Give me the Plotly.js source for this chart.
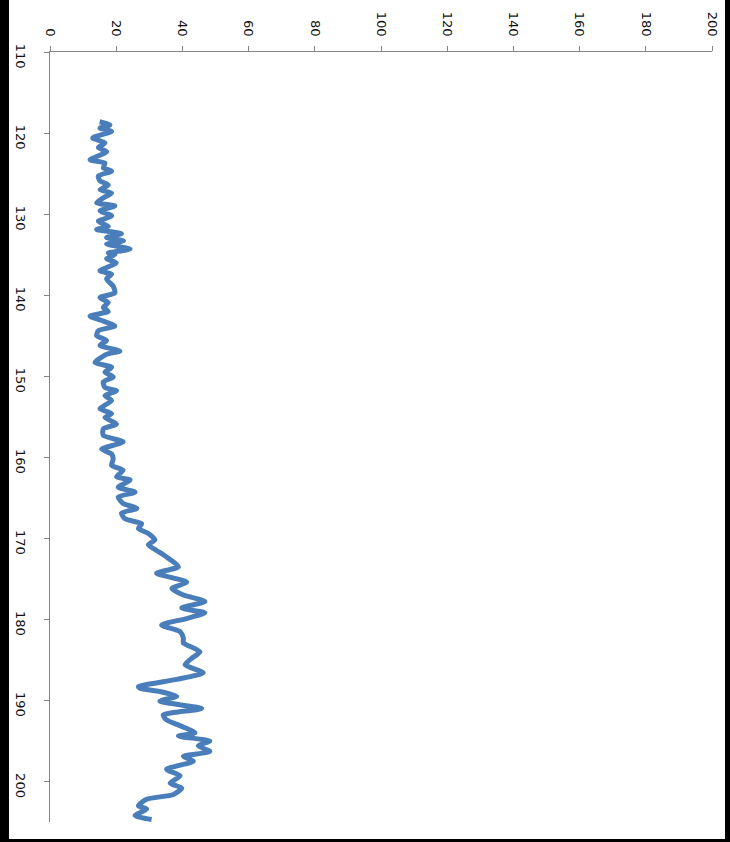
<!DOCTYPE html>
<html>
<head>
<meta charset="utf-8">
<script src="https://cdn.plot.ly/plotly-3.0.1.min.js"></script>
<style>
  html, body { margin: 0; padding: 0; background: #000; width: 730px; height: 842px; overflow: hidden; }
  #chart { position: absolute; left: 9px; top: 0px; width: 716px; height: 839px; }
</style>
</head>
<body>
<div id="chart"></div>
<script>
// Position along the (vertical) category axis
const position = [
  118.6,119.0,119.4,119.8,120.6,121.2,121.8,122.3,123.3,123.7,124.3,124.7,125.3,125.9,126.4,127.0,127.4,128.0,128.6,129.0,
  129.6,130.2,130.9,131.5,131.9,132.4,132.9,133.3,133.7,134.3,134.8,
  135.0,135.5,136.0,137.0,137.4,138.0,138.9,139.7,140.3,140.9,141.5,142.0,142.6,143.2,143.8,144.4,145.0,145.6,146.2,
  146.9,147.3,148.3,148.9,149.5,150.1,150.7,151.4,151.8,152.4,
  153.0,154.0,154.6,155.1,155.9,156.5,157.3,158.1,159.0,159.6,160.2,161.0,161.6,162.4,162.8,163.7,164.3,164.9,165.7,
  166.3,166.9,167.6,168.2,168.8,169.4,170.2,
  170.8,171.5,172.3,173.5,174.3,174.9,175.4,176.2,177.0,177.8,178.6,179.2,179.9,180.7,181.5,182.3,182.9,184.0,184.8,
  185.6,186.6,187.4,188.3,
  188.5,188.9,189.5,190.1,191.0,191.8,192.4,193.2,194.0,194.4,195.0,195.6,196.3,196.9,197.5,198.5,199.3,200.2,200.8,
  201.6,202.2,203.0,203.4,204.2,204.7
];
// Measured value (horizontal axis)
const value = [
  15.0,18.1,15.1,18.6,12.9,16.6,14.6,17.1,12.1,16.6,16.1,18.6,14.6,15.1,17.6,15.1,18.6,16.1,14.1,19.6,
  15.1,18.6,14.6,17.6,14.1,21.6,17.1,22.2,17.1,24.2,17.6,
  19.6,17.1,20.0,15.1,18.6,17.1,19.1,19.6,15.1,17.6,16.1,17.6,12.1,16.1,19.6,14.6,14.1,17.1,15.1,
  21.1,17.1,13.6,18.6,16.6,19.1,16.1,16.6,20.1,16.6,
  18.6,15.1,18.6,16.6,20.1,16.1,16.1,22.1,15.6,18.6,19.1,18.6,22.1,20.1,24.2,20.6,25.7,20.6,22.1,
  26.2,21.6,22.7,27.7,26.7,29.7,31.7,
  29.7,32.2,35.2,38.8,32.2,37.3,41.3,36.8,40.3,46.8,39.8,46.8,41.3,33.7,39.3,40.3,40.3,45.3,42.8,
  40.8,46.3,38.3,26.7,
  27.2,33.2,38.3,33.2,45.8,34.2,35.2,39.8,43.8,38.8,48.3,44.8,48.3,40.3,43.3,35.2,39.3,36.3,39.8,
  37.3,29.2,26.7,29.2,25.7,30.7
];
const valueTicks = [0, 20, 40, 60, 80, 100, 120, 140, 160, 180, 200];
const positionTicks = [110, 120, 130, 140, 150, 160, 170, 180, 190, 200];

const trace = {
  x: value,
  y: position,
  type: 'scatter',
  mode: 'lines',
  line: { color: '#4A7EBB', width: 5, shape: 'spline', smoothing: 0.6 },
  hoverinfo: 'skip'
};

const axisFont = { family: 'DejaVu Sans, Verdana, sans-serif', size: 13, color: '#111' };

const layout = {
  width: 716,
  height: 839,
  paper_bgcolor: '#ffffff',
  plot_bgcolor: '#ffffff',
  margin: { l: 41, r: 13, t: 52, b: 17, pad: 0 },
  showlegend: false,
  xaxis: {
    side: 'top',
    range: [0, 200],
    tickmode: 'array',
    tickvals: valueTicks,
    ticktext: valueTicks.map(String),
    tickangle: 90,
    ticks: 'outside',
    ticklen: 5,
    tickcolor: '#868686',
    showline: true,
    linecolor: '#868686',
    linewidth: 1,
    showgrid: false,
    zeroline: false,
    ticklabelstandoff: 5,
    tickfont: axisFont
  },
  yaxis: {
    range: [205, 110],
    tickmode: 'array',
    tickvals: positionTicks,
    ticktext: positionTicks.map(String),
    tickangle: 90,
    ticks: 'outside',
    ticklen: 5,
    tickcolor: '#868686',
    showline: true,
    linecolor: '#868686',
    linewidth: 1,
    showgrid: false,
    zeroline: false,
    ticklabelstandoff: 12,
    ticklabelshift: -6,
    tickfont: axisFont
  }
};

Plotly.newPlot('chart', [trace], layout, { staticPlot: true, displayModeBar: false });
</script>
</body>
</html>
